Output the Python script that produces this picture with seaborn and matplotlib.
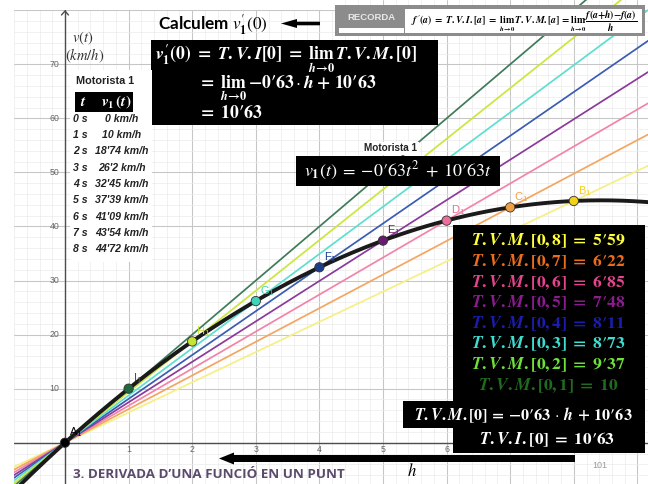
import numpy as np
import pandas as pd
import matplotlib
matplotlib.use("Agg")
import matplotlib.pyplot as plt
import seaborn as sns
from matplotlib.patches import Rectangle, Polygon

# Motorista 1: v1(t) = -0'63 t^2 + 10'63 t
coef_a = -0.63
coef_b = 10.63

# table of the motorist's speed
times = [0, 1, 2, 3, 4, 5, 6, 7, 8]
speeds = [0, 10, 18.74, 26.2, 32.45, 37.39, 41.09, 43.54, 44.72]
speed_labels = ["0", "10", "18'74", "26'2", "32'45", "37'39", "41'09", "43'54", "44'72"]
point_names = ["A", "I", "H", "G", "F", "E", "D", "C", "B"]
point_colors = ["#000000", "#1d6b3c", "#c8e432", "#3ed4b6", "#1d3c8c", "#6a1a6c",
                "#ef6d9c", "#f0a044", "#f2d01c"]

# secant lines through the origin: T.V.M.[0, b]
secant_ends = [1, 2, 3, 4, 5, 6, 7, 8]
secant_slopes = [10, 9.37, 8.73, 8.11, 7.48, 6.85, 6.22, 5.59]
secant_labels = ["10", "9'37", "8'73", "8'11", "7'48", "6'85", "6'22", "5'59"]
secant_colors = ["#3e7b5b", "#cbe63c", "#5ddfcf", "#3a5cb2", "#8b3a9c", "#f284aa",
                 "#f4a661", "#f6ef84"]
tvm_text_colors = ["#1f6b1f", "#6ee03a", "#3fdcd2", "#1c1cae", "#8a1c8e", "#e3448e",
                   "#ea6c1e", "#ffff3c"]
tvm_zero = "0'63"
tvi_zero = "10'63"

x_ticks = [1, 2, 3, 4, 5, 6]
y_ticks = [10, 20, 30, 40, 50, 60, 70]

sns.set_theme(style="white")
plt.rcParams.update({
    "mathtext.fontset": "custom",
    "mathtext.rm": "STIXGeneral:bold",
    "mathtext.it": "STIXGeneral:italic:bold",
    "mathtext.bf": "STIXGeneral:bold",
    "font.family": ["Liberation Sans", "DejaVu Sans"],
})


def pr(s):
    """Write a decimal comma as a prime sign."""
    return s.replace("'", "\u2032")


EQ = r"\;=\;"
PLUS = r"\;+\;"

W, H = 648, 484
fig = plt.figure(figsize=(W / 100, H / 100), dpi=100)
fig.patch.set_facecolor("white")

# 63.6 px per second, 5.406 px per km/h, origin at (65, 442.7) px
X0, X1 = -0.802, 9.167
Y0, Y1 = -7.64, 81.9
ax = fig.add_axes([14 / W, 0, 634 / W, 1])
ax.set_xlim(X0, X1)
ax.set_ylim(Y0, Y1)
ax.set_facecolor("white")
ax.set_xticks(np.arange(0, 10, 1))
ax.set_xticks(np.round(np.arange(-0.8, 9.2, 0.2), 2), minor=True)
ax.set_yticks(np.arange(0, 81, 10))
ax.set_yticks(np.arange(-6, 82, 2), minor=True)
ax.grid(which="major", color="#c6c6c6", lw=0.75)
ax.grid(which="minor", color="#ebebeb", lw=0.5)
ax.tick_params(which="both", length=0, labelbottom=False, labelleft=False)
for s in ax.spines.values():
    s.set_visible(False)
ax.axhline(0, color="#4d4d4d", lw=1.0, zorder=1.5)
ax.plot([0, 0], [Y0, 80], color="#4d4d4d", lw=1.0, zorder=1.5)

for yv in y_ticks:
    ax.text(-0.09, yv, str(yv), ha="right", va="center", fontsize=6.3, color="#666666")
for xv in x_ticks:
    ax.text(xv, -1.35, str(xv), ha="center", va="center", fontsize=6.3, color="#666666")

# secant lines
rows = []
for lab, m in zip(secant_labels, secant_slopes):
    for xv in (X0, X1):
        rows.append({"t": xv, "v": m * xv, "tvm": lab})
sec_df = pd.DataFrame(rows)
sns.lineplot(data=sec_df, x="t", y="v", hue="tvm", hue_order=secant_labels[::-1],
             palette=dict(zip(secant_labels, secant_colors)), lw=1.25, legend=False,
             sort=False, estimator=None, ax=ax, zorder=3)

# speed curve
t_grid = np.linspace(X0, X1, 400)
curve_df = pd.DataFrame({"t": t_grid, "v": coef_a * t_grid ** 2 + coef_b * t_grid})
sns.lineplot(data=curve_df, x="t", y="v", color="#1a1a1a", lw=2.8, ax=ax, zorder=4,
             sort=False, estimator=None)

# points of the table
pts_df = pd.DataFrame({"t": times, "v": speeds, "name": point_names})
sns.scatterplot(data=pts_df, x="t", y="v", hue="name",
                palette=dict(zip(point_names, point_colors)), s=45,
                edgecolor="#333333", linewidth=0.6, legend=False, ax=ax, zorder=6)
for tv, vv, nm, col in zip(times, speeds, point_names, point_colors):
    ax.annotate(nm + r"$_{\mathregular{1}}$", (tv, vv), xytext=(3, 2.5),
                textcoords="offset points", ha="left", va="bottom", fontsize=8,
                color=col, zorder=7)
ax.set_xlabel("")
ax.set_ylabel("")

# ---- annotation layer in pixel coordinates ----
ov = fig.add_axes([0, 0, 1, 1], zorder=5)
ov.set_xlim(0, W)
ov.set_ylim(H, 0)
ov.axis("off")


def box(x0, y0, x1, y1, color="black"):
    ov.add_patch(Rectangle((x0, y0), x1 - x0, y1 - y0, facecolor=color,
                           edgecolor="none", lw=0))


# blank top margin on the left part of the page
box(0, 0, 335, 10.3, color="white")

# y axis arrow and label
ov.plot([61.5, 65, 68.5], [15, 11, 15], color="#4d4d4d", lw=1.0)
ov.text(72, 38, r"$v(t)$", fontsize=10.5, color="#333333", va="center", ha="left",
        math_fontfamily="stix")
ov.text(65, 56, r"$(km/h)$", fontsize=10.5, color="#333333", va="center", ha="left",
        math_fontfamily="stix")

# title line with arrow
ov.text(158, 25, r"Calculem $v_{\mathbf{1}}^{\prime}(0)$", fontsize=12.3,
        fontweight="bold", family="Lato", math_fontfamily="stix", va="center", ha="left",
        color="black")
ov.add_patch(Polygon([(281, 23.5), (297, 19), (297, 21.7), (320, 21.7), (320, 25.3),
                      (297, 25.3), (297, 28)], closed=True, facecolor="black",
                     edgecolor="none"))

# reminder box
box(335, 5, 645, 36, color="#8c8c8c")
box(405, 9, 642, 33, color="white")
box(339, 28, 404, 33, color="white")
ov.text(371, 17.5, "RECORDA", fontsize=6.8, fontweight="bold", color="#e8e8e8",
        ha="center", va="center")
ov.text(524, 21, r"$f^{\prime}(a)" + EQ + r"T.V.I.[a]" + EQ + r"\lim_{h\to 0}\,T.V.M.[a]"
        + EQ + r"\lim_{h\to 0}\,\dfrac{f(a+h)-f(a)}{h}$", fontsize=7.0, color="black",
        ha="center", va="center")

# main derivation box
box(151, 40, 438, 125)
ov.text(155, 59, r"$v_{1}^{\prime}(0)" + EQ + r"T.V.I[0]" + EQ + r"\lim_{h\to 0}\,T.V.M.[0]$",
        fontsize=12.8, color="white", ha="left", va="center")
ov.text(198, 88, r"$=\;\lim_{h\to 0}\,{-}" + pr(tvm_zero) + r"\,\cdot\,h" + PLUS
        + pr(tvi_zero) + "$", fontsize=12.8, color="white", ha="left", va="center")
ov.text(198, 113, r"$=\;" + pr(tvi_zero) + "$", fontsize=12.8, color="white",
        ha="left", va="center")

# speed table
box(70, 70, 152, 262, color="white")
ov.text(105, 81, "Motorista 1", fontsize=7.8, fontweight="bold", color="#222222",
        ha="center", va="center")
box(75, 92, 133, 112)
ov.text(83, 102, r"$t$", fontsize=11, color="white", ha="center", va="center")
ov.text(116, 102, r"$v_{1}\,(t)$", fontsize=11, color="white", ha="center", va="center")
row_y0, row_dy = 119, 16.25
for i, (tv, sl) in enumerate(zip(times, speed_labels)):
    yy = row_y0 + i * row_dy
    ov.text(80, yy, f"{tv} s", fontsize=7.6, fontweight="bold", style="italic",
            color="#222222", ha="center", va="center")
    ov.text(122, yy, f"{sl} km/h", fontsize=7.6, fontweight="bold", style="italic",
            color="#222222", ha="center", va="center")

# function label
ov.text(391, 148, "Motorista 1", fontsize=7.2, fontweight="bold", color="#222222",
        ha="center", va="center",
        bbox=dict(boxstyle="square,pad=0.15", facecolor="white", edgecolor="none"))
box(296, 156, 500, 186)
ov.text(398, 171, r"$v_{\mathbf{1}}(t)" + EQ + "{-}" + pr("0'63") + r"t^{2}" + PLUS
        + pr("10'63") + "t$", fontsize=13, color="white", ha="center", va="center",
        math_fontfamily="stix")

# average rates box
box(453, 225, 645, 453)
box(403, 401, 645, 428)
tvm_y0, tvm_dy = 241, 20.6
for i in range(len(secant_ends)):
    j = len(secant_ends) - 1 - i
    ov.text(548, tvm_y0 + i * tvm_dy,
            r"$T.V.M.[0," + str(secant_ends[j]) + "]" + EQ + pr(secant_labels[j]) + "$",
            fontsize=12.6, color=tvm_text_colors[j], ha="center", va="center")
ov.text(523, 415, r"$T.V.M.[0]\,=\,{-}" + pr(tvm_zero) + r"\,\cdot\,h\,+\," + pr(tvi_zero)
        + "$", fontsize=11.6, color="white", ha="center", va="center")
ov.text(547, 440, r"$T.V.I.[0]" + EQ + pr(tvi_zero) + "$", fontsize=12.3, color="white",
        ha="center", va="center")

# h arrow
ov.add_patch(Polygon([(219, 458.5), (234, 452.5), (234, 455), (575, 455), (575, 462),
                      (234, 462), (234, 464.5)], closed=True, facecolor="black",
                     edgecolor="none"))
ov.text(412, 470, r"$h$", fontsize=12, color="black", ha="center", va="center",
        math_fontfamily="stix")

# footer
ov.text(73, 475, "3. DERIVADA D’UNA FUNCIÓ EN UN PUNT", fontsize=9.6, fontweight="bold",
        family="Open Sans", color="#5b4a6c", ha="left", va="center")
ov.text(600, 466, "101", fontsize=6.5, color="#9a9a9a", ha="center", va="center")

fig.savefig("out.png", dpi=100)
